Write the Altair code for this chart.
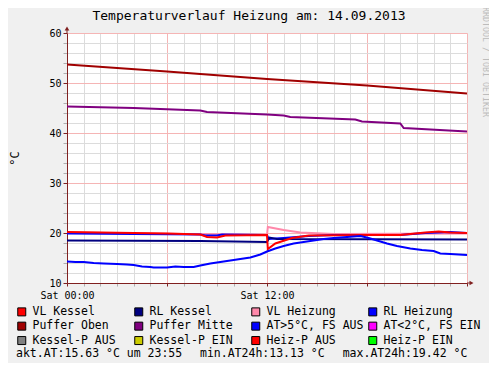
import altair as alt
import pandas as pd

MONO = "DejaVu Sans Mono"

# ---- data (hours since 00:00, °C) ----
vlk_t = [0, 2, 6, 8, 8.4, 9.0, 9.5, 12.0, 12.05, 12.5, 13.5, 14.5, 18, 20, 21.5, 22.3, 23, 24]
vlk_v = [20.2, 20.1, 19.9, 19.7, 19.2, 19.1, 19.5, 19.6, 16.8, 17.9, 19.0, 19.5, 19.6, 19.6, 20.1, 20.3, 20.1, 20.0]

rlk_t = [0, 8, 12.0, 12.15, 12.6, 24]
rlk_v = [18.5, 18.4, 18.2, 19.1, 18.8, 18.7]

vlh_t = [0, 12.0, 12.05, 13.0, 14.0, 16.0, 24]
vlh_v = [20.1, 19.6, 21.2, 20.6, 20.1, 19.8, 19.9]

rlh_t = [0, 8, 8.3, 9.0, 9.3, 12.0, 12.1, 13.0, 14.5, 16.0, 20.0, 21.5, 23.0, 24]
rlh_v = [19.9, 19.7, 19.5, 19.5, 19.7, 19.6, 18.8, 19.0, 19.4, 19.6, 19.6, 20.0, 20.2, 20.0]

po_t = [0, 6, 12, 18, 24]
po_v = [53.7, 52.3, 50.8, 49.5, 47.9]

pm_t = [0, 4, 8, 8.4, 12, 13.0, 13.4, 17.3, 17.7, 20.0, 20.2, 24]
pm_v = [45.3, 45.0, 44.5, 44.2, 43.7, 43.5, 43.2, 42.7, 42.3, 41.9, 41.0, 40.3]

at_t = [0, 0.5, 1.0, 1.6, 2.2, 3.0, 3.6, 4.0, 4.5, 5.0, 5.2, 6.0, 6.5, 7.0, 7.6, 8.0, 8.6, 9.2,
        10.2, 11.0, 11.6, 12.0, 12.5, 13.0, 13.6, 14.2, 14.8, 15.4, 16.0, 16.8, 17.6, 18.0,
        18.5, 19.2, 19.8, 20.6, 21.3, 22.0, 22.4, 23.0, 24.0]
at_v = [14.3, 14.2, 14.2, 14.0, 13.9, 13.8, 13.7, 13.6, 13.3, 13.2, 13.1, 13.1, 13.3, 13.2,
        13.2, 13.5, 13.9, 14.2, 14.7, 15.1, 15.7, 16.3, 16.9, 17.4, 17.9, 18.2, 18.5, 18.8,
        19.0, 19.2, 19.4, 19.1, 18.6, 17.9, 17.4, 16.9, 16.6, 16.4, 15.9, 15.8, 15.6]

legend_names = ["VL Kessel", "RL Kessel", "VL Heizung", "RL Heizung",
                "Puffer Oben", "Puffer Mitte", "AT>5°C, FS AUS", "AT<2°C, FS EIN",
                "Kessel-P AUS", "Kessel-P EIN", "Heiz-P AUS", "Heiz-P EIN"]
legend_colors = ["#ff0000", "#000080", "#ff88aa", "#0000ff",
                 "#a00000", "#800080", "#0000ff", "#ff00ff",
                 "#808080", "#cccc00", "#ff0000", "#00ff00"]

title_text = "Temperaturverlauf Heizung am: 14.09.2013"
info_texts = ["akt.AT:15.63 °C um 23:55", "min.AT24h:13.13 °C", "max.AT24h:19.42 °C"]
x_labels = {0: "Sat 00:00", 12: "Sat 12:00"}

# draw order (bottom to top)
series = [
    ("VL Heizung", vlh_t, vlh_v),
    ("RL Heizung", rlh_t, rlh_v),
    ("RL Kessel", rlk_t, rlk_v),
    ("VL Kessel", vlk_t, vlk_v),
    ("AT>5°C, FS AUS", at_t, at_v),
    ("Puffer Mitte", pm_t, pm_v),
    ("Puffer Oben", po_t, po_v),
]
cmap = dict(zip(legend_names, legend_colors))

label_expr = "datum.value == 0 ? '%s' : (datum.value == 12 ? '%s' : '')" % (x_labels[0], x_labels[12])

xaxis = alt.Axis(values=list(range(0, 25)), labelExpr=label_expr, grid=True,
                 gridColor=alt.condition("datum.value % 6 === 0", alt.value("#f5b5b5"), alt.value("#dcdcdc")),
                 tickColor=alt.condition("datum.value % 6 === 0", alt.value("#802020"), alt.value("#b0b0b0")),
                 domainColor="#802020", tickSize=3, labelFont=MONO, labelFontSize=10,
                 labelColor="black", labelPadding=4, labelFlush=False, labelOverlap=False, title=None)
yaxis = alt.Axis(values=list(range(10, 61, 2)),
                 labelExpr="datum.value % 10 === 0 ? datum.label : ''", grid=True,
                 gridColor=alt.condition("datum.value % 10 === 0", alt.value("#f5b5b5"), alt.value("#dcdcdc")),
                 tickColor=alt.condition("datum.value % 10 === 0", alt.value("#802020"), alt.value("#b0b0b0")),
                 domainColor="#802020", tickSize=4, labelFont=MONO, labelFontSize=10,
                 labelColor="black", labelPadding=2, labelFlush=False, labelOverlap=False,
                 title="°C", titleFont=MONO, titleFontSize=12, titleFontWeight="normal",
                 titleColor="black", titleX=-53, titleY=125, titleAngle=-90,
                 titleAlign="center", titleBaseline="middle")

X = alt.X("t:Q", scale=alt.Scale(domain=[0, 24], nice=False, zero=False), axis=xaxis)
Y = alt.Y("v:Q", scale=alt.Scale(domain=[10, 60], nice=False, zero=False), axis=yaxis)

layers = []
for name, ts, vs in series:
    df = pd.DataFrame({"t": ts, "v": vs})
    layers.append(alt.Chart(df).mark_line(strokeWidth=2, clip=True, interpolate="linear")
                  .encode(x=X, y=Y, color=alt.value(cmap[name])))

# legend (square symbols), points kept outside the plot and clipped
leg_df = pd.DataFrame({"name": legend_names, "t": [0] * 12, "v": [0] * 12})
legend_layer = alt.Chart(leg_df).mark_square(filled=True, clip=True, stroke="black", strokeWidth=1,
                                            size=64, opacity=1).encode(
    x=X, y=Y,
    fill=alt.Fill("name:N", scale=alt.Scale(domain=legend_names, range=legend_colors),
                  legend=alt.Legend(title=None, orient="none", legendX=-51, legendY=273, columns=4,
                                    direction="horizontal", gridAlign="all",
                                    symbolType="square", symbolSize=64, symbolStrokeColor="black",
                                    symbolStrokeWidth=1, symbolOpacity=1, labelFont=MONO, labelFontSize=11.5,
                                    labelColor="black", labelOffset=5, columnPadding=2,
                                    rowPadding=1.4, padding=0, labelLimit=200)),
)
layers.append(legend_layer)

one = pd.DataFrame({"a": [0]})
# axis extensions with arrows
axis_col = "#802020"
layers.append(alt.Chart(one).mark_rule(color=axis_col, strokeWidth=1).encode(
    x=alt.value(0), y=alt.value(-4), y2=alt.value(0)))
layers.append(alt.Chart(one).mark_rule(color=axis_col, strokeWidth=1).encode(
    x=alt.value(400), x2=alt.value(404), y=alt.value(250)))
layers.append(alt.Chart(one).mark_point(shape="triangle-up", filled=True, color=axis_col, size=22, opacity=1).encode(
    x=alt.value(0), y=alt.value(-4.5)))
layers.append(alt.Chart(one).mark_point(shape="triangle-right", filled=True, color=axis_col, size=22, opacity=1).encode(
    x=alt.value(404.5), y=alt.value(250)))

# title
layers.append(alt.Chart(one).mark_text(font=MONO, fontSize=13, color="black", align="center", baseline="middle").encode(
    x=alt.value(182), y=alt.value(-17), text=alt.value(title_text)))
# watermark
layers.append(alt.Chart(one).mark_text(font=MONO, fontSize=8.3, color="#bcbcbc", align="center", baseline="middle", angle=90).encode(
    x=alt.value(417.5), y=alt.value(29), text=alt.value("RRDTOOL / TOBI OETIKER")))
# info line
for txt, px in zip(info_texts, [-51, 133, 275.7]):
    layers.append(alt.Chart(one).mark_text(font=MONO, fontSize=11.5, color="black", align="left", baseline="middle").encode(
        x=alt.value(px), y=alt.value(320.5), text=alt.value(txt)))

chart = alt.layer(*layers).properties(
    width=400, height=250,
    padding={"left": 59, "top": 25, "right": 22, "bottom": 80},
    autosize=alt.AutoSizeParams(type="none"),
    background="#f0f0f0",
).configure_view(stroke=None, fill="white")

chart.save("out.html", embed_options={"renderer": "svg", "actions": False})
